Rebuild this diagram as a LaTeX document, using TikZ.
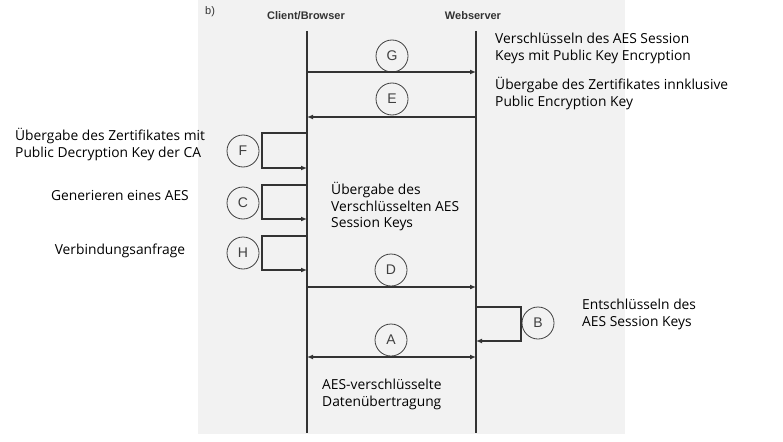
\documentclass[tikz,border=0pt]{standalone}
\usepackage{fontspec}
\setmainfont{Open Sans}
\newfontfamily\hdfont{Liberation Sans}
\usetikzlibrary{arrows.meta}
\begin{document}
\begin{tikzpicture}[x=1pt,y=-1pt,
  lifeline/.style={draw=black!80,line width=1.3pt},
  msg/.style={draw=black!80,line width=1.3pt,-{Latex[length=6pt,width=5pt]}},
  lbl/.style={circle,draw=black!75,line width=0.8pt,minimum size=32pt,inner sep=0pt,font=\hdfont\fontsize{14}{14}\selectfont,text=black!75},
  txt/.style={font=\fontsize{13.8}{16.5}\selectfont,align=left,inner sep=0pt,anchor=north west},
  hd/.style={font=\hdfont\bfseries\fontsize{11}{13}\selectfont,text=black!80,inner sep=0pt}]
\useasboundingbox (0,0) rectangle (783,441);
\fill[black!5] (198,0) rectangle (625,434);
\node[hd,anchor=west] (b) at (205,12) {\normalfont\hdfont b)};
\node[hd] (cl) at (306,16) {Client/Browser};
\node[hd] (ws) at (473,16) {Webserver};
\coordinate (ct) at (307,31); \coordinate (cb) at (307,433);
\coordinate (wt) at (476,31); \coordinate (wb) at (476,433);
\draw[lifeline] (ct) -- (cb);
\draw[lifeline] (wt) -- (wb);
% G
\node[lbl] (G) at (392,56) {G};
\coordinate (g1) at (307,72); \coordinate (g2) at (476,72);
\draw[msg] (g1) -- (g2);
% E
\node[lbl] (E) at (392,99) {E};
\coordinate (e1) at (476,117); \coordinate (e2) at (307,117);
\draw[msg] (e1) -- (e2);
% F
\node[lbl] (F) at (243,151) {F};
\coordinate (f1) at (307,133); \coordinate (f2) at (307,168);
\draw[msg] (f1) -- (262,133) -- (262,168) -- (f2);
% C
\node[lbl] (C) at (243,203) {C};
\coordinate (c1) at (307,185); \coordinate (c2) at (307,219);
\draw[msg] (c1) -- (262,185) -- (262,219) -- (c2);
% H
\node[lbl] (H) at (243,253) {H};
\coordinate (h1) at (307,236); \coordinate (h2) at (307,270);
\draw[msg] (h1) -- (262,236) -- (262,270) -- (h2);
% D
\node[lbl] (D) at (391,270) {D};
\coordinate (d1) at (307,287); \coordinate (d2) at (476,287);
\draw[msg] (d1) -- (d2);
% B
\node[lbl] (B) at (538,323) {B};
\coordinate (b1) at (476,307); \coordinate (b2) at (476,341);
\draw[msg] (b1) -- (521,307) -- (521,341) -- (b2);
% A
\node[lbl] (A) at (391,340) {A};
\coordinate (a1) at (307,357); \coordinate (a2) at (476,357);
\draw[msg,{Latex[length=6pt,width=5pt]}-{Latex[length=6pt,width=5pt]}] (a1) -- (a2);
% texts
\node[txt] (tg) at (495,33) {Verschlüsseln des AES Session\\Keys mit Public Key Encryption};
\node[txt] (te) at (495,77) {Übergabe des Zertifikates innklusive\\Public Encryption Key};
\node[txt] (tf) at (15,128) {Übergabe des Zertifikates mit\\Public Decryption Key der CA};
\node[txt,anchor=north] (tc) at (120,190) {Generieren eines AES};
\node[txt,anchor=north] (th) at (120,244) {Verbindungsanfrage};
\node[txt] (td) at (331,182) {Übergabe des\\Verschlüsselten AES\\Session Keys};
\node[txt] (tb) at (582,299) {Entschlüsseln des\\AES Session Keys};
\node[txt] (ta) at (322,379) {AES-verschlüsselte\\Datenübertragung};
\end{tikzpicture}
\end{document}
